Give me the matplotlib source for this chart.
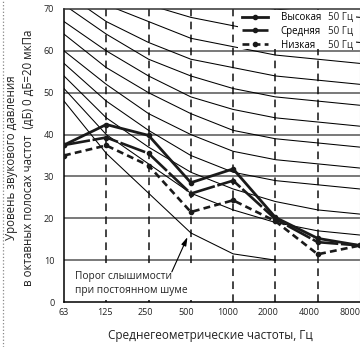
import matplotlib.pyplot as plt
from matplotlib.lines import Line2D
from matplotlib.patches import Rectangle

plt.rcParams['font.family'] = ['Open Sans', 'DejaVu Sans']

freqs = ['63', '125', '250', '500', '1000', '2000', '4000', '8000']

# NC curves, octave bands 63..8000 Hz
nc_20 = [51, 40, 33, 26, 22, 19, 17, 16]
nc_25 = [54, 44, 37, 31, 27, 24, 22, 21]
nc_30 = [57, 48, 41, 35, 31, 29, 28, 27]
nc_35 = [60, 52, 45, 40, 36, 34, 33, 32]
nc_40 = [64, 56, 50, 45, 41, 39, 38, 37]
nc_45 = [67, 60, 54, 49, 46, 44, 43, 42]
nc_50 = [71, 64, 58, 54, 51, 49, 48, 47]
nc_55 = [74, 67, 62, 58, 56, 54, 53, 52]
nc_60 = [77, 71, 67, 63, 61, 59, 58, 57]
nc_65 = [80, 75, 71, 68, 66, 64, 63, 62]
nc_70 = [83, 79, 75, 72, 71, 70, 69, 68]
nc_curves = [nc_20, nc_25, nc_30, nc_35, nc_40, nc_45, nc_50, nc_55, nc_60, nc_65, nc_70]

# hearing threshold (63..2000 Hz)
threshold = [48, 35.5, 26, 16.5, 11.5, 10]

high = [37.5, 42.4, 39.8, 28.5, 31.8, 20.2, 15.2, 13.5]
medium = [37.5, 39.3, 35.5, 25.9, 29.0, 19.8, 14.3, 13.5]
low = [35.0, 37.4, 32.6, 21.5, 24.3, 19.3, 11.4, 13.5]

series_labels = ['Высокая', 'Средняя', 'Низкая']
series_freq = '50 Гц'

fig = plt.figure(figsize=(3.6, 3.47), dpi=100)
ax = fig.add_axes([64 / 360, 45 / 347, 296 / 360, 293 / 347])

x = list(range(len(freqs)))

for lvl in [10, 20, 30, 40, 50, 60]:
    ax.axhline(lvl, color='#555555', lw=1.1, zorder=1.5)
for i in range(1, 7):
    ax.axvline(i, color='#111111', lw=1.1, ls=(0, (5, 3.5)), zorder=1.6)

for c in nc_curves:
    ax.plot(x, c, color='black', lw=0.75, zorder=2)
ax.plot(x[:len(threshold)], threshold, color='black', lw=0.75, zorder=2)

l1, = ax.plot(x, high, color='#1a1a1a', lw=2.0, marker='o', ms=3, zorder=4)
l2, = ax.plot(x, medium, color='#1a1a1a', lw=1.9, ls=(0, (10, 1)), marker='o', ms=3, zorder=4)
l3, = ax.plot(x, low, color='#1a1a1a', lw=1.9, ls=(0, (2.6, 1.6)), marker='o', ms=3, zorder=4)

ax.set_xlim(0, 7)
ax.set_ylim(0, 70)
ax.set_yticks(range(0, 71, 10))
label_step = 0.965
ax.set_xticks([i * label_step for i in x])
ax.set_xticklabels(freqs)
ax.tick_params(length=0, labelsize=6.5, colors='#222222')
ax.tick_params(axis='x', pad=4)
ax.tick_params(axis='y', pad=7)

for s in ['left', 'bottom']:
    ax.spines[s].set_color('black')
    ax.spines[s].set_linewidth(1.1)
ax.spines['top'].set_color('#333333')
ax.spines['top'].set_linewidth(1.1)
ax.spines['right'].set_color('#bbbbbb')
ax.spines['right'].set_linewidth(0.8)

# white background behind legend
ax.add_patch(Rectangle((0.588, 0.865), 0.398, 0.131, transform=ax.transAxes,
                       facecolor='white', edgecolor='none', zorder=2.4))

leg = ax.legend([l1, l2, l3], series_labels, loc='upper left',
                bbox_to_anchor=(0.601, 0.99), frameon=False, fontsize=7,
                borderpad=0, borderaxespad=0, handlelength=2.7,
                handletextpad=1.3, labelspacing=0.3)
leg.set_zorder(5)

ax.text(0.27, 4.4, 'Порог слышимости\nпри постоянном шуме', fontsize=7.3,
        va='center', ha='left', linespacing=1.45, color='#222222', zorder=3,
        bbox=dict(boxstyle='square,pad=0.35', fc='white', ec='none'))
ax.annotate('', xy=(2.92, 15.5), xytext=(2.55, 7.2),
            arrowprops=dict(arrowstyle='-|>,head_length=0.5,head_width=0.15',
                            color='black', lw=0.8, shrinkA=0, shrinkB=0), zorder=3)

fig.text(20 / 360, 0.545,
         'Уровень звукового давления\nв октавных полосах частот  (дБ) 0 дБ=20 мкПа',
         rotation=90, ha='center', va='center', multialignment='center',
         linespacing=1.35, fontsize=8.3, color='#222222')
fig.text(210 / 360, 1 - 335 / 347, 'Среднегеометрические частоты, Гц',
         ha='center', va='center', fontsize=8.5, color='#222222')

fig.add_artist(Line2D([3 / 360, 3 / 360], [0, 1], transform=fig.transFigure,
                      ls=':', color='#888888', lw=0.9))

fig.canvas.draw()
inv = fig.transFigure.inverted()
for t in leg.get_texts():
    bb = t.get_window_extent()
    yc = inv.transform((0, (bb.y0 + bb.y1) / 2))[1]
    fig.text(328 / 360, yc, series_freq, fontsize=7, va='center', ha='left',
             color='#222222', zorder=6)

fig.savefig('out.png', dpi=100)
